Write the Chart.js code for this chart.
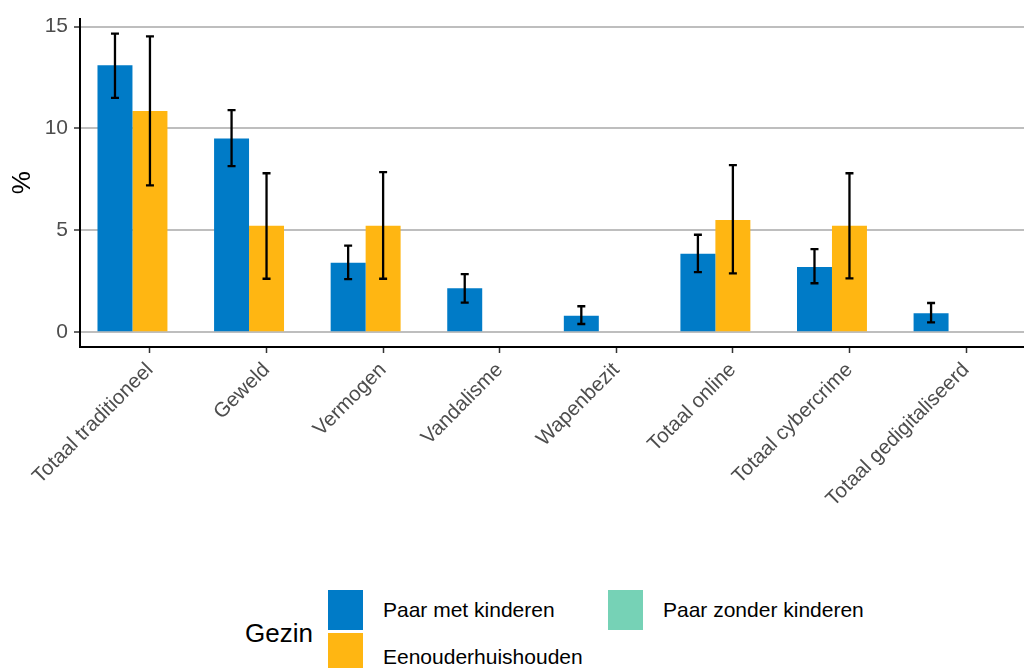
<!DOCTYPE html>
<html>
<head>
<meta charset="utf-8">
<script src="https://cdn.jsdelivr.net/npm/chart.js@4.4.1/dist/chart.umd.min.js"></script>
<style>
  html, body { margin: 0; padding: 0; background: #fff; overflow: hidden; }
  body { width: 1024px; height: 668px; position: relative; font-family: "Liberation Sans", Arial, sans-serif; }
  #wrap { position: absolute; left: 0; top: 0; width: 1040px; height: 560px; }
  .legend-title { position: absolute; left: 245px; top: 618px; font-size: 26px; line-height: 30px; color: #000; }
  .key { position: absolute; width: 35px; height: 40px; }
  .lbl { position: absolute; font-size: 21px; color: #000; line-height: 24px; }
</style>
</head>
<body>
<div id="wrap"><canvas id="chart" width="1040" height="560"></canvas></div>

<div class="legend-title">Gezin</div>
<div class="key" style="left:328px;top:590px;background:#007BC7"></div>
<div class="key" style="left:328px;top:633px;background:#FFB612"></div>
<div class="key" style="left:608px;top:590px;background:#76D2B6"></div>
<div class="lbl" style="left:383px;top:598px">Paar met kinderen</div>
<div class="lbl" style="left:383px;top:645px">Eenouderhuishouden</div>
<div class="lbl" style="left:663px;top:598px">Paar zonder kinderen</div>

<script>
// ---- data ----
const categories = ['Totaal traditioneel', 'Geweld', 'Vermogen', 'Vandalisme',
                    'Wapenbezit', 'Totaal online', 'Totaal cybercrime', 'Totaal gedigitaliseerd'];

const paarMetKinderen  = [13.1, 9.5, 3.4, 2.15, 0.8, 3.85, 3.2, 0.93];
const paarMetLow       = [11.5, 8.15, 2.6, 1.45, 0.4, 2.95, 2.4, 0.48];
const paarMetHigh      = [14.65, 10.9, 4.25, 2.85, 1.27, 4.78, 4.07, 1.43];

const eenouder         = [10.85, 5.22, 5.22, null, null, 5.5, 5.22, null];
const eenouderLow      = [7.2, 2.62, 2.62, null, null, 2.88, 2.64, null];
const eenouderHigh     = [14.52, 7.8, 7.85, null, null, 8.2, 7.8, null];

const paarZonder       = [null, null, null, null, null, null, null, null];

const yTicks = [0, 5, 10, 15];

const COL_BLUE   = '#007BC7';
const COL_YELLOW = '#FFB612';
const COL_TEAL   = '#76D2B6';

const toPoints = arr => arr.map((v, i) => ({ x: i + 1, y: v }));

// error bars drawn through the y scale
const errorBars = {
  id: 'errorBars',
  afterDatasetsDraw(chart) {
    const ctx = chart.ctx;
    const y = chart.scales.y;
    const sets = [[0, paarMetLow, paarMetHigh], [1, eenouderLow, eenouderHigh]];
    ctx.save();
    ctx.strokeStyle = '#000';
    ctx.lineWidth = 2.3;
    sets.forEach(([di, lo, hi]) => {
      const meta = chart.getDatasetMeta(di);
      meta.data.forEach((bar, i) => {
        if (lo[i] == null || hi[i] == null) return;
        const x = bar.x;
        const y1 = y.getPixelForValue(lo[i]);
        const y2 = y.getPixelForValue(hi[i]);
        ctx.beginPath();
        ctx.moveTo(x, y1); ctx.lineTo(x, y2);
        ctx.moveTo(x - 4, y1); ctx.lineTo(x + 4, y1);
        ctx.moveTo(x - 4, y2); ctx.lineTo(x + 4, y2);
        ctx.stroke();
      });
    });
    ctx.restore();
  }
};

new Chart(document.getElementById('chart'), {
  type: 'bar',
  data: {
    datasets: [
      { label: 'Paar met kinderen',   data: toPoints(paarMetKinderen), backgroundColor: COL_BLUE },
      { label: 'Eenouderhuishouden',  data: toPoints(eenouder),        backgroundColor: COL_YELLOW },
      { label: 'Paar zonder kinderen', data: toPoints(paarZonder),     backgroundColor: COL_TEAL }
    ]
  },
  options: {
    responsive: false,
    animation: false,
    barPercentage: 1,
    categoryPercentage: 0.9,
    layout: { padding: { top: 12, right: 4, left: 0, bottom: 0 } },
    plugins: { legend: { display: false }, tooltip: { enabled: false } },
    scales: {
      x: {
        type: 'linear',
        offset: false,
        min: 0.4, max: 8.6,
        afterBuildTicks: s => { s.ticks = categories.map((c, i) => ({ value: i + 1 })); },
        afterFit: s => { s.height = 560 - 347; },
        grid: { offset: false, drawOnChartArea: false, drawTicks: true, tickLength: 6, tickColor: '#333', tickWidth: 1.5 },
        border: { display: true, color: '#000', width: 2 },
        ticks: {
          autoSkip: false, minRotation: 45, maxRotation: 45, padding: 5,
          color: '#4d4d4d', font: { family: 'Liberation Sans', size: 20.5 },
          callback: v => categories[v - 1]
        }
      },
      y: {
        min: -0.73, max: 15.39,
        afterBuildTicks: s => { s.ticks = yTicks.map(v => ({ value: v })); },
        afterFit: s => { s.width = 80; },
        grid: { color: '#bebebe', lineWidth: 2, tickLength: 6, tickColor: '#333', tickWidth: 1.5 },
        border: { display: true, color: '#000', width: 2 },
        ticks: { color: '#4d4d4d', padding: 6, font: { family: 'Liberation Sans', size: 21 } },
        title: { display: true, text: '%', color: '#000', padding: { top: 7, bottom: 0 },
                 font: { family: 'Liberation Sans', size: 26 } }
      }
    }
  },
  plugins: [errorBars]
});
</script>
</body>
</html>
